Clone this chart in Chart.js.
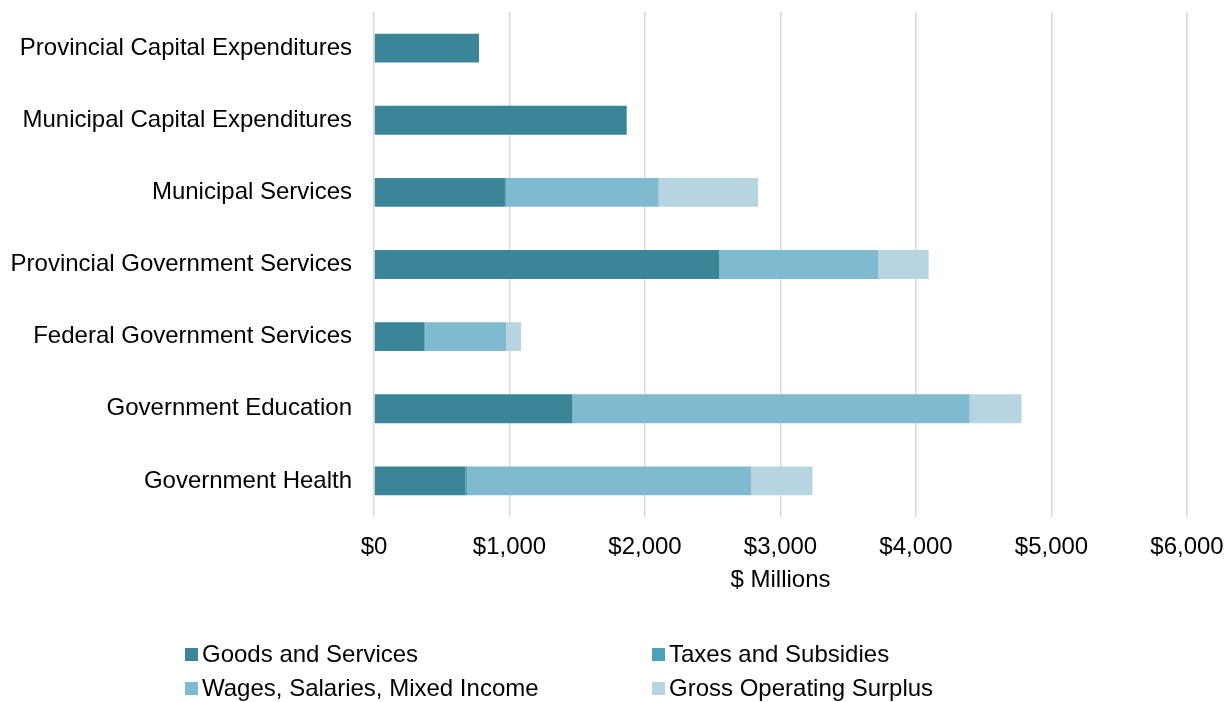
<!DOCTYPE html>
<html>
<head>
<meta charset="utf-8">
<title>Government spending by component</title>
<script src="https://cdn.jsdelivr.net/npm/chart.js@4/dist/chart.umd.min.js"></script>
<style>
  body { margin: 0; background: #fff; }
</style>
</head>
<body>
<canvas id="spendChart" width="1228" height="702"></canvas>
<script>
// --- data ($ millions) ---
const categories = [
    'Provincial Capital Expenditures',
    'Municipal Capital Expenditures',
    'Municipal Services',
    'Provincial Government Services',
    'Federal Government Services',
    'Government Education',
    'Government Health'
];
const goodsServices  = [775, 1865, 966, 2546, 370, 1462, 673];
const taxesSubsidies = [0, 0, 10, 5, 8, 5, 15];
const wagesIncome    = [0, 0, 1125, 1170, 596, 2929, 2096];
const grossSurplus   = [0, 0, 733, 372, 112, 383, 452];
const xTickValues    = [0, 1000, 2000, 3000, 4000, 5000, 6000];

const FONT = '"Liberation Sans", Arial, sans-serif';
const TEXT = '#000';

// two-column legend under the axis title
const gridLegend = {
    id: 'gridLegend',
    afterDraw(chart) {
        const ctx = chart.ctx;
        const cols = [185, 652];
        const rows = [655, 689];
        ctx.save();
        ctx.font = '24px ' + FONT;
        ctx.textBaseline = 'middle';
        ctx.textAlign = 'left';
        chart.data.datasets.forEach((ds, i) => {
            const x = cols[i % 2];
            const y = rows[Math.floor(i / 2)];
            ctx.fillStyle = ds.backgroundColor;
            ctx.fillRect(x, y - 7, 13, 13);
            ctx.fillStyle = TEXT;
            ctx.fillText(ds.label, x + 17, y);
        });
        ctx.restore();
    }
};

const ctx = document.getElementById('spendChart').getContext('2d');
const spendChart = new Chart(ctx, {
    type: 'bar',
    data: {
        labels: categories,
        datasets: [
            { label: 'Goods and Services', data: goodsServices, backgroundColor: '#3a8598' },
            { label: 'Taxes and Subsidies', data: taxesSubsidies, backgroundColor: '#4ba2b7' },
            { label: 'Wages, Salaries, Mixed Income', data: wagesIncome, backgroundColor: '#7fbad0' },
            { label: 'Gross Operating Surplus', data: grossSurplus, backgroundColor: '#b7d5e0' }
        ]
    },
    options: {
        indexAxis: 'y',
        responsive: false,
        animation: false,
        devicePixelRatio: 1,
        barPercentage: 0.4,
        categoryPercentage: 1.0,
        layout: { padding: { top: 12, right: 41, bottom: 107, left: 0 } },
        plugins: {
            legend: { display: false },
            tooltip: { enabled: false }
        },
        scales: {
            x: {
                stacked: true,
                min: 0,
                max: 6000,
                afterBuildTicks: s => { s.ticks = xTickValues.map(v => ({ value: v })); },
                afterFit: s => {
                    s.height = 78;
                    s.paddingLeft = 0;
                    s.paddingRight = 0;
                },
                grid: { color: '#d9d9d9', lineWidth: 1.5, drawTicks: false },
                border: { display: false },
                ticks: {
                    padding: 16,
                    color: TEXT,
                    font: { family: FONT, size: 24 },
                    callback: v => '$' + v.toLocaleString('en-US')
                },
                title: {
                    display: true,
                    text: '$ Millions',
                    color: TEXT,
                    padding: 0,
                    font: { family: FONT, size: 24 }
                }
            },
            y: {
                stacked: true,
                afterFit: s => {
                    s.width = 374;
                    s.paddingTop = 0;
                    s.paddingBottom = 0;
                },
                grid: { display: false, drawTicks: false },
                border: { display: false },
                ticks: {
                    padding: 22,
                    color: TEXT,
                    font: { family: FONT, size: 24 }
                }
            }
        }
    },
    plugins: [gridLegend]
});
</script>
</body>
</html>
